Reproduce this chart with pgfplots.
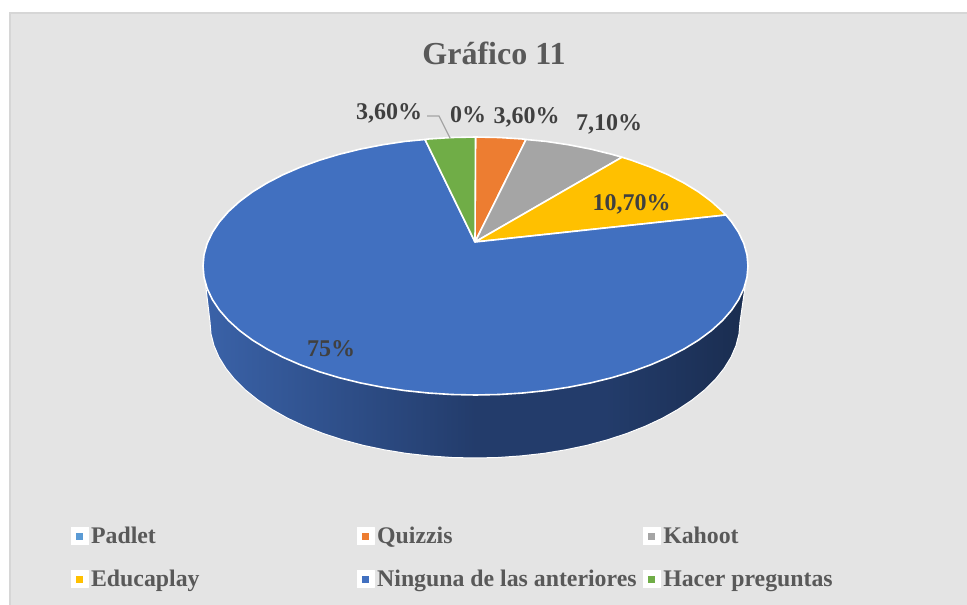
\documentclass[border=0pt]{standalone}
\usepackage{fontspec}
\setmainfont{Liberation Serif}
\usepackage{pgfplots}
\pgfplotsset{compat=1.18}

\definecolor{panel}{HTML}{E4E4E4}
\definecolor{panelline}{HTML}{D6D6D6}
\definecolor{cPadlet}{HTML}{5B9BD5}
\definecolor{cQuizzis}{HTML}{ED7D31}
\definecolor{cKahoot}{HTML}{A5A5A5}
\definecolor{cEducaplay}{HTML}{FFC000}
\definecolor{cNinguna}{HTML}{4170C0}
\definecolor{cHacer}{HTML}{70AD47}
\definecolor{labeltext}{HTML}{404040}
\definecolor{legendtext}{HTML}{595959}
\definecolor{sideA}{HTML}{3A62A8}
\definecolor{sideB}{HTML}{233C6B}
\definecolor{sideC}{HTML}{1A2D50}

\pgfdeclarehorizontalshading{sideblue}{100bp}{
  color(0bp)=(sideA); color(25bp)=(sideA); color(50bp)=(sideB);
  color(62bp)=(sideB); color(75bp)=(sideC); color(100bp)=(sideC)}

\newcommand{\leg}[1]{\makebox[263.5pt][l]{#1}}
\newcommand{\lab}[3]{\node[text=labeltext,font=\fontsize{24}{26}\selectfont\bfseries] at (axis cs:#1,#2) {#3};}

\begin{document}
\begin{tikzpicture}
\begin{axis}[
    scale only axis,
    width=967pt, height=605pt,
    xmin=0, xmax=967, ymin=0, ymax=605,
    y dir=reverse,
    hide axis,
    clip=false,
    legend columns=3,
    legend style={
        at={(axis cs:70.5,525)}, anchor=north west,
        draw=none, fill=none, inner sep=0pt, outer sep=0pt,
        row sep=21pt, column sep=0pt,
        text=legendtext,
        font=\fontsize{23.8}{26}\selectfont\bfseries,
        cells={anchor=west},
    },
    legend image code/.code={
        \fill[white] (0pt,-8.5pt) rectangle (17pt,8.5pt);
        \path[#1,draw=none] (5pt,-3.5pt) rectangle (12pt,3.5pt);
    },
]
% panel behind the chart
\path[use as bounding box] (rel axis cs:0,0) rectangle (rel axis cs:1,1);
\fill[panel] (axis cs:9,12) rectangle (axis cs:967,605);
\draw[panelline,line width=2pt] (axis cs:9.5,605) -- (axis cs:9.5,12.5) -- (axis cs:967,12.5);

% side wall of the pie
\addplot[forget plot,shading=sideblue,draw=white,line width=1pt] coordinates {
  (205.4,283)(745.6,283)(740,322)(739,333.9)(736,345.6)(731,357.2)(724,368.5)
  (715.2,379.5)(704.5,390)(692.1,400)(678,409.4)(662.4,418.2)(645.3,426.2)
  (627,433.4)(607.5,439.8)(587,445.3)(565.6,449.8)(543.6,453.4)(521,455.9)
  (498.1,457.5)(475,458)(451.9,457.5)(429,455.9)(406.4,453.4)(384.4,449.8)
  (363,445.3)(342.5,439.8)(323,433.4)(304.7,426.2)(287.6,418.2)(272,409.4)
  (257.9,400)(245.5,390)(234.8,379.5)(226,368.5)(219,357.2)(214,345.6)
  (211,333.9)(210,322)
} -- cycle;

% top face, one slice per category
\addplot[fill=cPadlet,draw=white,line width=1.6pt] coordinates {(475,242)(475.5,137)};
\addlegendentry{\leg{Padlet}}
\addplot[fill=cQuizzis,draw=white,line width=1.6pt,line join=round] coordinates {
  (475,242)(475.5,137)(499.3,137.5)(522.8,139)(526,139.5)
} -- cycle;
\addlegendentry{\leg{Quizzis}}
\addplot[fill=cKahoot,draw=white,line width=1.6pt,line join=round] coordinates {
  (475,242)(526,139.5)(546,141.4)(568.7,144.8)(590.7,149.1)(611.8,154.3)(622,157.2)
} -- cycle;
\addlegendentry{\leg{Kahoot}}
\addplot[fill=cEducaplay,draw=white,line width=1.6pt,line join=round] coordinates {
  (475,242)(622,157.2)(631.8,160.3)(650.7,167.2)(668.2,174.8)(684.2,183.1)
  (698.7,192)(711.5,201.5)(722.5,211.5)(726,215)
} -- cycle;
\addlegendentry{\leg{Educaplay}}
\addplot[fill=cNinguna,draw=white,line width=1.6pt,line join=round] coordinates {
  (475,242)(726,215)(731.6,221.9)(738.7,232.6)(743.9,243.6)(747,254.8)(748,266)
  (747,277.2)(743.9,288.4)(738.7,299.4)(731.6,310.1)(722.5,320.5)(711.5,330.5)
  (698.7,340)(684.2,348.9)(668.2,357.2)(650.7,364.8)(631.8,371.7)(611.8,377.7)
  (590.7,382.9)(568.7,387.2)(546,390.6)(522.8,393)(499.3,394.5)(475.5,395)
  (451.7,394.5)(428.2,393)(405,390.6)(382.3,387.2)(360.3,382.9)(339.2,377.7)
  (319.2,371.7)(300.3,364.8)(282.8,357.2)(266.8,348.9)(252.3,340)(239.5,330.5)
  (228.5,320.5)(219.4,310.1)(212.3,299.4)(207.1,288.4)(204,277.2)(203,266)
  (204,254.8)(207.1,243.6)(212.3,232.6)(219.4,221.9)(228.5,211.5)(239.5,201.5)
  (252.3,192)(266.8,183.1)(282.8,174.8)(300.3,167.2)(319.2,160.3)(339.2,154.3)
  (360.3,149.1)(382.3,144.8)(405,141.4)(425,139.5)
} -- cycle;
\addlegendentry{\leg{Ninguna de las anteriores}}
\addplot[fill=cHacer,draw=white,line width=1.6pt,line join=round] coordinates {
  (475,242)(425,139.5)(428.2,139)(451.7,137.5)(475.5,137)
} -- cycle;
\addlegendentry{Hacer preguntas}

% leader line of the first 3,60%
\addplot[forget plot,draw=cKahoot,line width=1.2pt] coordinates {(427,116)(439,116)(450,138)};

\node[text=legendtext,font=\fontsize{32}{36}\selectfont\bfseries] at (axis cs:494,53) {Gráfico 11};
\lab{389}{113.5}{3,60\%}
\lab{468}{114.5}{0\%}
\lab{526.5}{117.5}{3,60\%}
\lab{609}{124.5}{7,10\%}
\lab{631.5}{204.5}{10,70\%}
\lab{331}{348.5}{75\%}
\end{axis}
\end{tikzpicture}
\end{document}
